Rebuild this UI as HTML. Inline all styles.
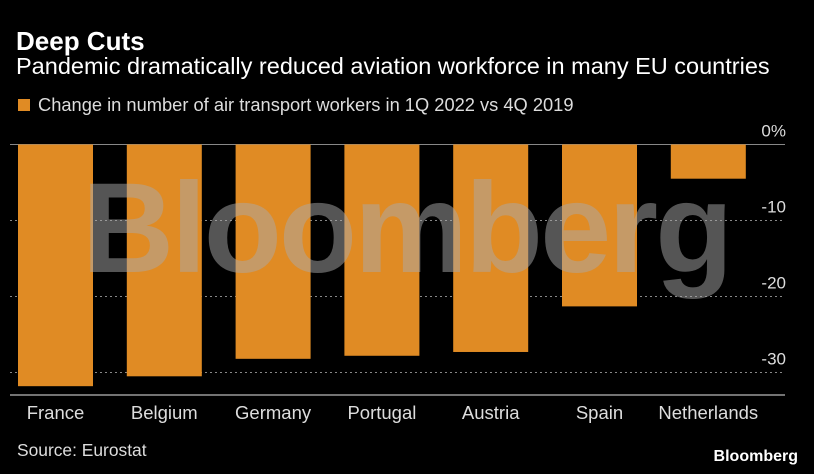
<!DOCTYPE html>
<html><head><meta charset="utf-8"><style>
html,body{margin:0;padding:0;background:#000;width:814px;height:474px;overflow:hidden;font-family:"Liberation Sans",sans-serif;color:#fff}
.t{position:absolute;white-space:nowrap}
</style></head><body>
<div class="t" style="left:16px;top:26px;font-size:26px;font-weight:bold">Deep Cuts</div>
<div class="t" style="left:16px;top:53px;font-size:23.5px">Pandemic dramatically reduced aviation workforce in many EU countries</div>
<div class="t" style="left:18px;top:94px;font-size:18.3px;color:#ddd"><span style="display:inline-block;width:12px;height:12px;background:#e08b24;margin-right:8px;vertical-align:0px"></span>Change in number of air transport workers in 1Q 2022 vs 4Q 2019</div>
<svg id="c" width="814" height="474" style="position:absolute;left:0;top:0"></svg>
<div class="t" style="left:17px;top:440px;font-size:17.4px;color:#ddd">Source: Eurostat</div>
<div class="t" style="right:16px;top:448px;font-size:16px;font-weight:bold">Bloomberg</div>
<script>
const categories=["France","Belgium","Germany","Portugal","Austria","Spain","Netherlands"];
const values=[-31.8,-30.5,-28.2,-27.8,-27.3,-21.3,-4.5];
const ticks=[0,-10,-20,-30];
const tickLabels=["0%","-10","-20","-30"];
const NS="http://www.w3.org/2000/svg",svg=document.getElementById("c");
const y0=144.5,pxPer=7.6;
const y=v=>y0-v*pxPer;
const x=i=>18+i*108.8;
const bw=75;
function el(t,a){const e=document.createElementNS(NS,t);for(const k in a)e.setAttribute(k,a[k]);svg.appendChild(e);return e;}
ticks.forEach((t,i)=>{
  const g=el("line",{x1:10,x2:785,y1:y(t),y2:y(t),stroke:"#888","stroke-width":1,"stroke-dasharray":t===0?"":"2,3"});
  
  
  const tx=el("text",{x:786,y:y(t)-8,"text-anchor":"end",fill:"#ddd","font-size":17,"font-family":"Liberation Sans"});
  tx.textContent=tickLabels[i];
  
  
});
values.forEach((v,i)=>{
  const r=el("rect",{x:x(i),y:y(0),width:bw,height:y(v)-y(0),fill:"#e08b24"});
  
  
  const tx=el("text",{x:x(i)+bw/2,y:419,"text-anchor":"middle",fill:"#ddd","font-size":18.5,"font-family":"Liberation Sans"});
  tx.textContent=categories[i];
  
  
});
const ax=el("line",{x1:10,x2:785,y1:395,y2:395,stroke:"#999","stroke-width":1.5});


const wm=el("text",{x:406,y:272,"text-anchor":"middle",fill:"#aaa","fill-opacity":0.5,"font-size":128,"font-weight":"bold","font-family":"Liberation Sans","letter-spacing":-3});
wm.textContent="Bloomberg";


</script>
</body></html>
